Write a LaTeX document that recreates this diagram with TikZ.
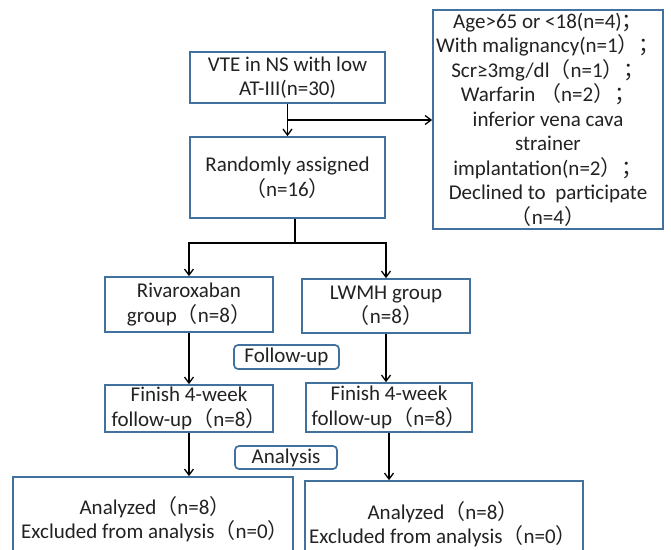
\documentclass[tikz,border=0pt]{standalone}
\usepackage{fontspec}
\setmainfont{Carlito}
\newfontfamily\cjk{Noto Sans CJK SC}
\usetikzlibrary{arrows.meta,calc}
\newcommand\lpar{{\cjk （}}
\newcommand\rpar{{\cjk ）}}
\newcommand\fsemi{{\cjk ；}}
\definecolor{boxblue}{HTML}{41719C}
\definecolor{txt}{HTML}{222222}
\begin{document}
\begin{tikzpicture}[x=1pt,y=-1pt,
  box/.style={draw=boxblue, line width=1.7pt, fill=white, align=center, inner sep=0pt,
    text=txt, font=\fontsize{21}{24.5}\selectfont},
  rbox/.style={box, rounded corners=4pt},
  plain/.style={align=center, inner sep=0pt, text=txt, font=\fontsize{21}{24.5}\selectfont},
  arr/.style={-{Straight Barb[length=6pt,width=9pt,line width=1.3pt]}, line width=1.4pt},
  ln/.style={line width=1.4pt}]
\useasboundingbox (0,0) rectangle (671,549);
\fill[white] (0,0) rectangle (671,549);
\begin{scope}
\clip (0,0) rectangle (671,549);
\node[box, minimum width=195pt, minimum height=51pt] (vte) at (287.5,77.5) {VTE in NS with low\\AT-III(n=30)};
\node[box, minimum width=195pt, minimum height=81pt] (rand) at (287.5,177.5) {Randomly assigned\\\lpar n=16\rpar};
\node[box, minimum width=230pt, minimum height=219pt] (excl) at (548,119.5) {Age>65 or <18(n=4)\fsemi\\With malignancy(n=1\rpar\fsemi\\Scr≥3mg/dl\lpar n=1\rpar\fsemi\\Warfarin \lpar n=2\rpar\fsemi\\inferior vena cava\\strainer\\implantation(n=2\rpar\fsemi\\Declined to\ \ participate\\\lpar n=4\rpar};
\node[box, minimum width=168pt, minimum height=55pt] (riv) at (189,304.5) {Rivaroxaban\\group\lpar n=8\rpar};
\node[box, minimum width=168pt, minimum height=54pt] (lw) at (386,306) {LWMH group\\\lpar n=8\rpar};
\node[rbox, minimum width=105pt, minimum height=24pt] (fu) at (286.5,357) {Follow-up};
\node[box, minimum width=168pt, minimum height=47pt] (fin1) at (189,408.5) {Finish 4-week\\follow-up\lpar n=8\rpar};
\node[box, minimum width=166pt, minimum height=49pt] (fin2) at (389,407.5) {Finish 4-week\\follow-up\lpar n=8\rpar};
\node[rbox, minimum width=102pt, minimum height=23pt] (an) at (286,457.5) {Analysis};
\node[box, minimum width=280pt, minimum height=100pt] (bot1) at (153,527) {};
\node[plain] (bot1t) at (155,519) {Analyzed\lpar n=8\rpar\\Excluded from analysis\lpar n=0\rpar};
\node[box, minimum width=278pt, minimum height=100pt] (bot2) at (444,531) {};
\node[plain] (bot2t) at (443,524) {Analyzed\lpar n=8\rpar\\Excluded from analysis\lpar n=0\rpar};
\coordinate (s1) at ($(vte.south)!0.5!(rand.north)$);
\coordinate (s2) at (295,243);
\draw[arr] (vte.south) -- (rand.north);
\draw[arr] (s1) -- (s1 -| excl.west);
\draw[ln] (rand.south -| s2) -- (s2);
\draw[arr] (s2) -| (riv.north);
\draw[arr] (s2) -| (lw.north);
\draw[arr] (riv.south) -- (fin1.north);
\draw[arr] (lw.south) -- (lw.south |- fin2.north);
\draw[arr] (fin1.south) -- (fin1.south |- bot1.north);
\draw[arr] (fin2.south) -- (fin2.south |- bot2.north);
\end{scope}
\end{tikzpicture}
\end{document}
